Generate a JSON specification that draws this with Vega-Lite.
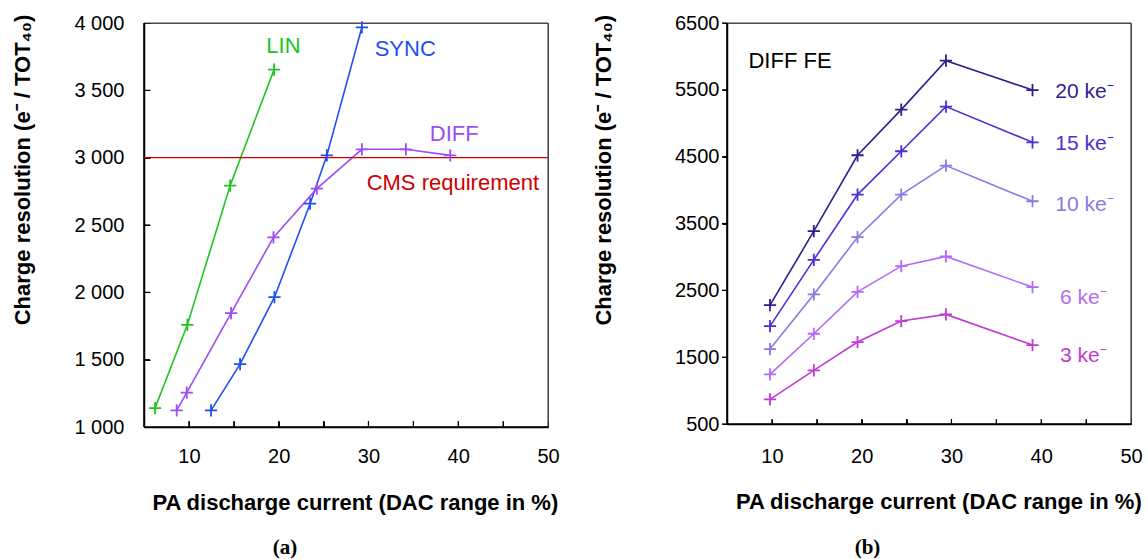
{
  "$schema": "https://vega.github.io/schema/vega-lite/v6.json",
  "padding": {"left": 10, "top": 12, "right": 0, "bottom": 0},
  "spacing": 32,
  "config": {
    "font": "Liberation Sans",
    "view": {"stroke": "#555555", "strokeWidth": 1},
    "axis": {
      "grid": false, "domainColor": "#000000", "domainWidth": 1.5, "tickColor": "#000000", "tickWidth": 1,
      "labelFont": "Liberation Sans", "labelFontSize": 20, "labelColor": "#000000",
      "titleFont": "Liberation Sans", "titleFontSize": 22, "titleFontWeight": "bold", "titleColor": "#000000",
      "labelFlush": false, "labelOverlap": false
    },
    "title": {"font": "Liberation Serif", "fontSize": 21, "fontWeight": "bold", "color": "#000000"}
  },
  "datasets": {
    "left": [
      {"series": "LIN", "x": 6.23, "y": 1140},
      {"series": "LIN", "x": 9.83, "y": 1759},
      {"series": "LIN", "x": 14.59, "y": 2792},
      {"series": "LIN", "x": 19.49, "y": 3654},
      {"series": "SYNC", "x": 12.47, "y": 1123},
      {"series": "SYNC", "x": 15.7, "y": 1467},
      {"series": "SYNC", "x": 19.53, "y": 1964},
      {"series": "SYNC", "x": 23.5, "y": 2658},
      {"series": "SYNC", "x": 25.37, "y": 3017},
      {"series": "SYNC", "x": 29.27, "y": 3968},
      {"series": "DIFF", "x": 8.64, "y": 1123},
      {"series": "DIFF", "x": 9.76, "y": 1256},
      {"series": "DIFF", "x": 14.7, "y": 1845},
      {"series": "DIFF", "x": 19.42, "y": 2408},
      {"series": "DIFF", "x": 24.25, "y": 2770},
      {"series": "DIFF", "x": 29.27, "y": 3062},
      {"series": "DIFF", "x": 34.17, "y": 3062},
      {"series": "DIFF", "x": 39.11, "y": 3017}
    ],
    "cms": [
      {"series": "CMS", "x": 5, "y": 3000},
      {"series": "CMS", "x": 50, "y": 3000}
    ],
    "leftLabels": [
      {"series": "LIN", "label": "LIN", "x": 20.53, "y": 3832},
      {"series": "SYNC", "label": "SYNC", "x": 34.1, "y": 3810},
      {"series": "DIFF", "label": "DIFF", "x": 39.56, "y": 3178},
      {"series": "CMS", "label": "CMS requirement", "x": 39.4, "y": 2811}
    ],
    "leftFrameTR": [
      {"edge": "top", "x": 5, "y": 4000},
      {"edge": "top", "x": 50, "y": 4000},
      {"edge": "right", "x": 50, "y": 4000},
      {"edge": "right", "x": 50, "y": 1000}
    ],
    "leftFrameBL": [
      {"edge": "left", "x": 5, "y": 4000},
      {"edge": "left", "x": 5, "y": 1000},
      {"edge": "bottom", "x": 5, "y": 1000},
      {"edge": "bottom", "x": 50, "y": 1000}
    ],
    "leftTicksX": [
      {"x": 10, "y": 1000}, {"x": 15, "y": 1000}, {"x": 20, "y": 1000}, {"x": 25, "y": 1000},
      {"x": 30, "y": 1000}, {"x": 35, "y": 1000}, {"x": 40, "y": 1000}, {"x": 45, "y": 1000}
    ],
    "leftTicksY": [
      {"x": 5, "y": 1500}, {"x": 5, "y": 2000}, {"x": 5, "y": 2500}, {"x": 5, "y": 3000}, {"x": 5, "y": 3500}
    ],
    "right": [
      {"series": "20 ke", "x": 9.79, "y": 2279},
      {"series": "20 ke", "x": 14.67, "y": 3385},
      {"series": "20 ke", "x": 19.54, "y": 4521},
      {"series": "20 ke", "x": 24.41, "y": 5204},
      {"series": "20 ke", "x": 29.39, "y": 5936},
      {"series": "20 ke", "x": 39.03, "y": 5497},
      {"series": "15 ke", "x": 9.79, "y": 1965},
      {"series": "15 ke", "x": 14.67, "y": 2956},
      {"series": "15 ke", "x": 19.54, "y": 3933},
      {"series": "15 ke", "x": 24.41, "y": 4581},
      {"series": "15 ke", "x": 29.39, "y": 5249},
      {"series": "15 ke", "x": 39.03, "y": 4715},
      {"series": "10 ke", "x": 9.79, "y": 1621},
      {"series": "10 ke", "x": 14.67, "y": 2439},
      {"series": "10 ke", "x": 19.54, "y": 3295},
      {"series": "10 ke", "x": 24.41, "y": 3933},
      {"series": "10 ke", "x": 29.39, "y": 4367},
      {"series": "10 ke", "x": 39.03, "y": 3833},
      {"series": "6 ke", "x": 9.79, "y": 1243},
      {"series": "6 ke", "x": 14.67, "y": 1850},
      {"series": "6 ke", "x": 19.54, "y": 2478},
      {"series": "6 ke", "x": 24.41, "y": 2862},
      {"series": "6 ke", "x": 29.39, "y": 3007},
      {"series": "6 ke", "x": 39.03, "y": 2548},
      {"series": "3 ke", "x": 9.79, "y": 869},
      {"series": "3 ke", "x": 14.67, "y": 1303},
      {"series": "3 ke", "x": 19.54, "y": 1726},
      {"series": "3 ke", "x": 24.41, "y": 2040},
      {"series": "3 ke", "x": 29.39, "y": 2140},
      {"series": "3 ke", "x": 39.03, "y": 1681}
    ],
    "rightLabels": [
      {"series": "20 ke", "label": "20 ke⁻", "x": 41.56, "y": 5467},
      {"series": "15 ke", "label": "15 ke⁻", "x": 41.56, "y": 4690},
      {"series": "10 ke", "label": "10 ke⁻", "x": 41.56, "y": 3784},
      {"series": "6 ke", "label": "6 ke⁻", "x": 42.1, "y": 2388},
      {"series": "3 ke", "label": "3 ke⁻", "x": 42.1, "y": 1516}
    ],
    "rightTitle": [
      {"series": "FE", "label": "DIFF FE", "x": 12.02, "y": 5936}
    ],
    "rightFrameTR": [
      {"edge": "top", "x": 5, "y": 6500},
      {"edge": "top", "x": 50, "y": 6500},
      {"edge": "right", "x": 50, "y": 6500},
      {"edge": "right", "x": 50, "y": 500}
    ],
    "rightFrameBL": [
      {"edge": "left", "x": 5, "y": 6500},
      {"edge": "left", "x": 5, "y": 500},
      {"edge": "bottom", "x": 5, "y": 500},
      {"edge": "bottom", "x": 50, "y": 500}
    ],
    "rightTicksX": [
      {"x": 10, "y": 500}, {"x": 15, "y": 500}, {"x": 20, "y": 500}, {"x": 25, "y": 500},
      {"x": 30, "y": 500}, {"x": 35, "y": 500}, {"x": 40, "y": 500}, {"x": 45, "y": 500}
    ],
    "rightTicksY": [
      {"x": 5, "y": 500}, {"x": 5, "y": 1500}, {"x": 5, "y": 2500}, {"x": 5, "y": 3500},
      {"x": 5, "y": 4500}, {"x": 5, "y": 5500}, {"x": 5, "y": 6500}
    ]
  },
  "hconcat": [
    {
      "width": 404,
      "height": 404,
      "title": {"text": "(a)", "orient": "bottom", "frame": "bounds", "anchor": "middle", "offset": 24},
      "layer": [
        {
          "data": {"name": "left"},
          "mark": {"type": "line", "strokeWidth": 1.6},
          "encoding": {
            "x": {"field": "x", "type": "quantitative",
              "scale": {"domain": [5, 50], "nice": false, "zero": false},
              "axis": {"title": "PA discharge current (DAC range in %)",
                "values": [5, 10, 15, 20, 25, 30, 35, 40, 45, 50],
                "labelExpr": "datum.value % 10 === 0 ? format(datum.value, 'd') : ''",
                "tickSize": -6, "labelPadding": 25.5,
                "titleX": 210.8, "titleY": 75, "titleBaseline": "middle"}},
            "y": {"field": "y", "type": "quantitative",
              "scale": {"domain": [1000, 4000], "nice": false, "zero": false},
              "axis": {"title": "Charge resolution (e⁻ / TOT₄₀)",
                "values": [1000, 1500, 2000, 2500, 3000, 3500, 4000],
                "labelExpr": "replace(format(datum.value, ','), ',', ' ')",
                "tickSize": -6, "labelPadding": 26,
                "titleX": -122, "titleY": 146.5, "titleBaseline": "middle"}},
            "color": {"field": "series", "type": "nominal", "legend": null,
              "scale": {"domain": ["LIN", "SYNC", "DIFF", "CMS", "20 ke", "15 ke", "10 ke", "6 ke", "3 ke", "FE"],
                "range": ["#22c422", "#1f4ef5", "#9b4ef6", "#cc0000", "#2e1f8f", "#4a2fd6", "#8a7ae8", "#b36bf5", "#c23ad0", "#000000"]}}
          }
        },
        {
          "data": {"name": "leftFrameTR"},
          "mark": {"type": "line", "color": "#444444", "strokeWidth": 1.2},
          "encoding": {
            "x": {"field": "x", "type": "quantitative"},
            "y": {"field": "y", "type": "quantitative"},
            "detail": {"field": "edge"}
          }
        },
        {
          "data": {"name": "leftFrameBL"},
          "mark": {"type": "line", "color": "#000000", "strokeWidth": 1.6},
          "encoding": {
            "x": {"field": "x", "type": "quantitative"},
            "y": {"field": "y", "type": "quantitative"},
            "detail": {"field": "edge"}
          }
        },
        {
          "data": {"name": "leftTicksX"},
          "mark": {"type": "point", "shape": "M0,0V-1", "color": "#000000", "size": 144, "strokeWidth": 1.2, "filled": false, "opacity": 1},
          "encoding": {
            "x": {"field": "x", "type": "quantitative"},
            "y": {"field": "y", "type": "quantitative"}
          }
        },
        {
          "data": {"name": "leftTicksY"},
          "mark": {"type": "point", "shape": "M0,0H1", "color": "#000000", "size": 144, "strokeWidth": 1.2, "filled": false, "opacity": 1},
          "encoding": {
            "x": {"field": "x", "type": "quantitative"},
            "y": {"field": "y", "type": "quantitative"}
          }
        },
        {
          "data": {"name": "cms"},
          "mark": {"type": "line", "color": "#cc0000", "strokeWidth": 1.2},
          "encoding": {
            "x": {"field": "x", "type": "quantitative"},
            "y": {"field": "y", "type": "quantitative"}
          }
        },
        {
          "data": {"name": "left"},
          "mark": {"type": "point", "shape": "M-1,0H1M0,-1V1", "size": 150, "strokeWidth": 1.8, "filled": false, "opacity": 1},
          "encoding": {
            "x": {"field": "x", "type": "quantitative"},
            "y": {"field": "y", "type": "quantitative"},
            "color": {"field": "series", "type": "nominal", "legend": null}
          }
        },
        {
          "data": {"name": "leftLabels"},
          "mark": {"type": "text", "fontSize": 22, "align": "center", "baseline": "middle"},
          "encoding": {
            "x": {"field": "x", "type": "quantitative"},
            "y": {"field": "y", "type": "quantitative"},
            "text": {"field": "label"},
            "color": {"field": "series", "type": "nominal", "legend": null}
          }
        }
      ]
    },
    {
      "width": 404,
      "height": 401,
      "title": {"text": "(b)", "orient": "bottom", "frame": "bounds", "anchor": "middle", "offset": 24},
      "layer": [
        {
          "data": {"name": "right"},
          "mark": {"type": "line", "strokeWidth": 1.6},
          "encoding": {
            "x": {"field": "x", "type": "quantitative",
              "scale": {"domain": [5, 50], "nice": false, "zero": false},
              "axis": {"title": "PA discharge current (DAC range in %)",
                "values": [5, 10, 15, 20, 25, 30, 35, 40, 45, 50],
                "labelExpr": "datum.value % 10 === 0 ? format(datum.value, 'd') : ''",
                "tickSize": -5, "labelPadding": 27,
                "titleX": 211.3, "titleY": 77.7, "titleBaseline": "middle"}},
            "y": {"field": "y", "type": "quantitative",
              "scale": {"domain": [500, 6500], "nice": false, "zero": false},
              "axis": {"title": "Charge resolution (e⁻ / TOT₄₀)",
                "values": [500, 1500, 2500, 3500, 4500, 5500, 6500],
                "labelExpr": "format(datum.value, 'd')",
                "tickSize": 5, "labelPadding": 3,
                "titleX": -123.2, "titleY": 146.8, "titleBaseline": "middle"}},
            "color": {"field": "series", "type": "nominal", "legend": null}
          }
        },
        {
          "data": {"name": "rightFrameTR"},
          "mark": {"type": "line", "color": "#444444", "strokeWidth": 1.2},
          "encoding": {
            "x": {"field": "x", "type": "quantitative"},
            "y": {"field": "y", "type": "quantitative"},
            "detail": {"field": "edge"}
          }
        },
        {
          "data": {"name": "rightFrameBL"},
          "mark": {"type": "line", "color": "#000000", "strokeWidth": 1.6},
          "encoding": {
            "x": {"field": "x", "type": "quantitative"},
            "y": {"field": "y", "type": "quantitative"},
            "detail": {"field": "edge"}
          }
        },
        {
          "data": {"name": "rightTicksX"},
          "mark": {"type": "point", "shape": "M0,0V-1", "color": "#000000", "size": 100, "strokeWidth": 1.2, "filled": false, "opacity": 1},
          "encoding": {
            "x": {"field": "x", "type": "quantitative"},
            "y": {"field": "y", "type": "quantitative"}
          }
        },
        {
          "data": {"name": "rightTicksY"},
          "mark": {"type": "point", "shape": "M0,0H-1", "color": "#000000", "size": 100, "strokeWidth": 1.2, "filled": false, "opacity": 1},
          "encoding": {
            "x": {"field": "x", "type": "quantitative"},
            "y": {"field": "y", "type": "quantitative"}
          }
        },
        {
          "data": {"name": "right"},
          "mark": {"type": "point", "shape": "M-1,0H1M0,-1V1", "size": 150, "strokeWidth": 1.8, "filled": false, "opacity": 1},
          "encoding": {
            "x": {"field": "x", "type": "quantitative"},
            "y": {"field": "y", "type": "quantitative"},
            "color": {"field": "series", "type": "nominal", "legend": null}
          }
        },
        {
          "data": {"name": "rightLabels"},
          "mark": {"type": "text", "fontSize": 21, "align": "left", "baseline": "middle"},
          "encoding": {
            "x": {"field": "x", "type": "quantitative"},
            "y": {"field": "y", "type": "quantitative"},
            "text": {"field": "label"},
            "color": {"field": "series", "type": "nominal", "legend": null}
          }
        },
        {
          "data": {"name": "rightTitle"},
          "mark": {"type": "text", "fontSize": 22, "align": "center", "baseline": "middle"},
          "encoding": {
            "x": {"field": "x", "type": "quantitative"},
            "y": {"field": "y", "type": "quantitative"},
            "text": {"field": "label"},
            "color": {"field": "series", "type": "nominal", "legend": null}
          }
        }
      ]
    }
  ]
}
